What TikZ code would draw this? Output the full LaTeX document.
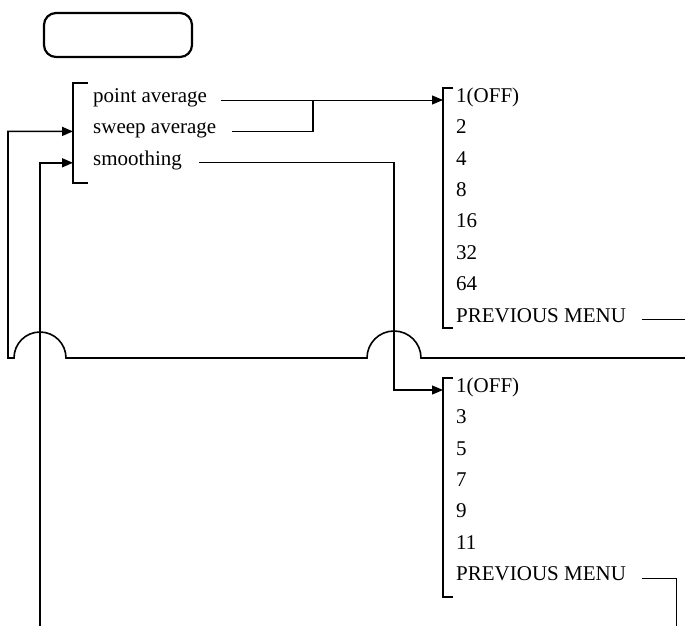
\documentclass[tikz,border=0pt]{standalone}
\usepackage{fontspec}
\setmainfont{Liberation Serif}
\usetikzlibrary{arrows.meta,positioning}

\begin{document}
\begin{tikzpicture}[
  x=1pt, y=-1pt,
  item/.style={inner sep=0pt, minimum height=31pt, text height=0.7em, text depth=0.25em, font=\fontsize{21}{24}\selectfont},
  bar/.style={line width=1.6pt},
  thin/.style={line width=0.9pt},
  arr/.style={-{Triangle[length=11pt,width=9pt]}, line width=1.6pt}
]
\useasboundingbox (0,0) rectangle (685,626);

% empty title box
\node[draw, line width=2.2pt, rounded corners=12pt, minimum width=148pt, minimum height=44pt] (title) at (118,35) {};

% left menu
\node[item, anchor=west] (pavg) at (93,100) {point average};
\node[item, below=0pt of pavg.south west, anchor=north west] (savg) {sweep average};
\node[item, below=0pt of savg.south west, anchor=north west] (smth) {smoothing};
\coordinate (lT) at (73,83);
\coordinate (lB) at (73,183);
\draw[bar] ([xshift=15pt]lT) -- (lT) -- (lB) -- ([xshift=15pt]lB);

% averaging menu
\node[item, anchor=west] (avg1) at (456,100) {1(OFF)};
\node[item, below=0pt of avg1.south west, anchor=north west] (avg2) {2};
\node[item, below=0pt of avg2.south west, anchor=north west] (avg3) {4};
\node[item, below=0pt of avg3.south west, anchor=north west] (avg4) {8};
\node[item, below=0pt of avg4.south west, anchor=north west] (avg5) {16};
\node[item, below=0pt of avg5.south west, anchor=north west] (avg6) {32};
\node[item, below=0pt of avg6.south west, anchor=north west] (avg7) {64};
\node[item, below=0pt of avg7.south west, anchor=north west] (avg8) {PREVIOUS MENU};
\coordinate (aT) at (443,88);
\coordinate (aB) at (443,328);
\draw[bar] ([xshift=10pt]aT) -- (aT) -- (aB) -- ([xshift=10pt]aB);

% smoothing menu
\node[item, anchor=west] (sm1) at (456,390) {1(OFF)};
\node[item, below=0pt of sm1.south west, anchor=north west] (sm2) {3};
\node[item, below=0pt of sm2.south west, anchor=north west] (sm3) {5};
\node[item, below=0pt of sm3.south west, anchor=north west] (sm4) {7};
\node[item, below=0pt of sm4.south west, anchor=north west] (sm5) {9};
\node[item, below=0pt of sm5.south west, anchor=north west] (sm6) {11};
\node[item, below=0pt of sm6.south west, anchor=north west] (sm7) {PREVIOUS MENU};
\coordinate (sT) at (443,378);
\coordinate (sB) at (443,597);
\draw[bar] ([xshift=10pt]sT) -- (sT) -- (sB) -- ([xshift=10pt]sB);

% connectors
\coordinate (jn) at (313,100);
\coordinate (hopA) at (40,358);
\coordinate (hopB) at (394,358);
\coordinate (retA) at (8,358);
\coordinate (retB) at (40,626);
\coordinate (outR) at (685,358);
\coordinate (outS) at (676,626);
\draw[arr, thin] ([xshift=14pt]pavg.east) -- (aT |- avg1.west);
\draw[thin, line width=1.2pt] ([xshift=16pt]savg.east) -| (jn);
\draw[arr, line width=1.2pt] ([xshift=17pt]smth.east) -| (hopB |- sm1.west) -- (sT |- sm1.west);
\draw[arr] (outR) -- ([xshift=27pt]hopB) arc[start angle=0, end angle=180, radius=27pt]
  -- ([xshift=26pt]hopA) arc[start angle=0, end angle=180, radius=26pt]
  -- (retA) |- (lT |- savg.west);
\draw[arr] (retB) |- (lT |- smth.west);
\draw[thin] ([xshift=16pt]avg8.east) -- (avg8.east -| outR);
\draw[thin] ([xshift=16pt]sm7.east) -| (outS);
\end{tikzpicture}
\end{document}
